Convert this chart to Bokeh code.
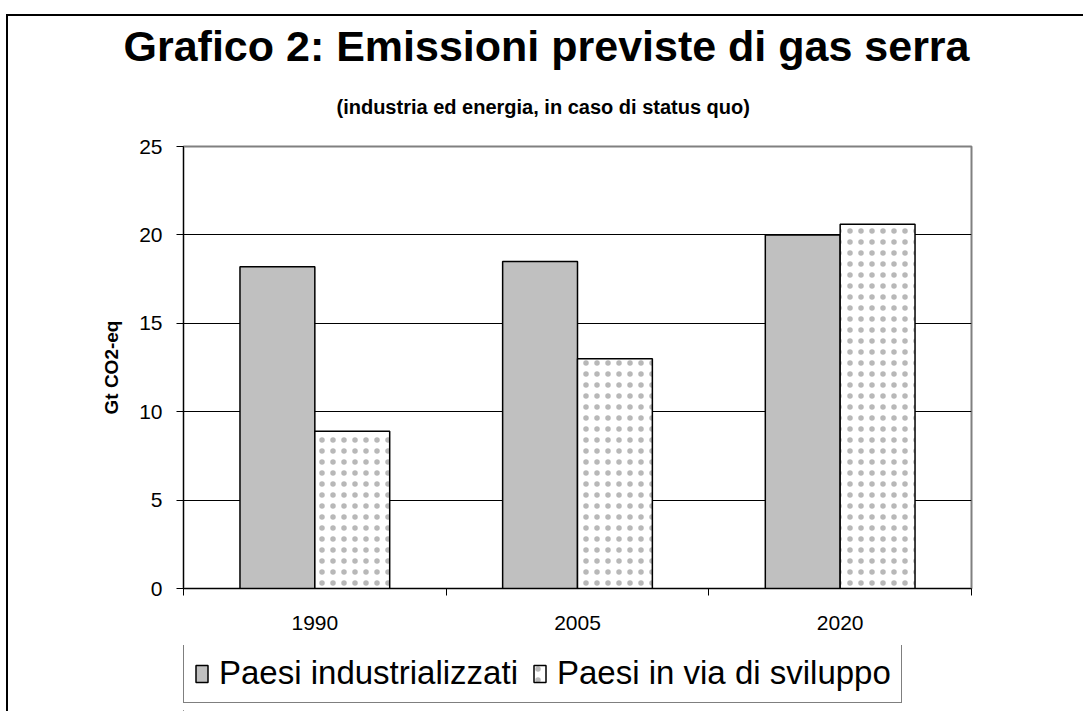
from bokeh.plotting import figure
from bokeh.layouts import column
from bokeh.models import (ColumnDataSource, Range1d, FixedTicker, Legend, LegendItem, Title)
from bokeh.transform import dodge
from bokeh.embed import file_html
from bokeh.resources import INLINE

years = ["1990", "2005", "2020"]
industrializzati = [18.2, 18.5, 20.0]
in_sviluppo = [8.9, 13.0, 20.6]
y_ticks = [0, 5, 10, 15, 20, 25]

title_text = "Grafico 2: Emissioni previste di gas serra"
subtitle_text = "(industria ed energia, in caso di status quo)"
series_names = ["Paesi industrializzati", "Paesi in via di sviluppo"]
y_label = "Gt CO2-eq"

FONT = "Liberation Sans"
BW = 0.285
IND_STYLE = dict(fill_color="#C0C0C0", line_color="black", line_width=1.5)
DEV_STYLE = dict(fill_color="white", line_color="black", line_width=1.5,
                 hatch_pattern="dot", hatch_color="#b8b8b8", hatch_scale=11, hatch_weight=1.2)

xc = [i + 0.5 for i in range(len(years))]
src = ColumnDataSource(dict(xc=xc, year=years, ind=industrializzati, dev=in_sviluppo))

p = figure(width=1075, height=629, frame_width=788, frame_height=442,
           min_border_left=175, min_border_right=112, min_border_top=130, min_border_bottom=57,
           x_range=Range1d(0, len(years)), y_range=Range1d(0, 25),
           output_backend="svg", toolbar_location=None, tools="")
p.background_fill_color = "white"
p.border_fill_color = "white"
p.outline_line_color = "#808080"
p.outline_line_width = 2

r1 = p.vbar(x=dodge("xc", -BW / 2, range=p.x_range), top="ind", width=BW, source=src, **IND_STYLE)
r2 = p.vbar(x=dodge("xc", BW / 2, range=p.x_range), top="dev", width=BW, source=src, **DEV_STYLE)

# grid
p.xgrid.visible = False
p.ygrid.ticker = FixedTicker(ticks=y_ticks[1:-1])
p.ygrid.grid_line_color = "black"
p.ygrid.grid_line_width = 1

# y axis
ya = p.yaxis[0]
ya.ticker = FixedTicker(ticks=y_ticks)
ya.minor_tick_line_color = None
ya.major_tick_in = 0
ya.major_tick_out = 7
ya.major_tick_line_color = "black"
ya.axis_line_color = "black"
ya.major_label_text_font = FONT
ya.major_label_text_font_size = "21px"
ya.major_label_text_color = "black"
ya.major_label_standoff = 14
ya.axis_label = y_label
ya.axis_label_text_font = FONT
ya.axis_label_text_font_style = "bold"
ya.axis_label_text_font_size = "19px"
ya.axis_label_text_color = "black"
ya.axis_label_standoff = 14

# x axis
xa = p.xaxis[0]
xa.ticker = FixedTicker(ticks=xc, minor_ticks=list(range(len(years) + 1)))
xa.major_label_overrides = {c: y for c, y in zip(xc, years)}
xa.major_tick_in = 0
xa.major_tick_out = 0
xa.minor_tick_in = 0
xa.minor_tick_out = 7
xa.minor_tick_line_color = "black"
xa.axis_line_color = "black"
xa.major_label_text_font = FONT
xa.major_label_text_font_size = "21px"
xa.major_label_text_color = "black"
xa.major_label_standoff = 20

# titles (subtitle first: nearest to the frame)
p.add_layout(Title(text=subtitle_text, align="left", offset=153, standoff=58,
                   text_font=FONT, text_font_style="bold", text_font_size="20px",
                   text_color="black"), "above")
p.add_layout(Title(text=title_text, align="left", offset=-60, standoff=-11,
                   text_font=FONT, text_font_style="bold", text_font_size="43px",
                   text_color="black"), "above")

# legend strip below the chart (same data, drawn well outside its visible ranges)
pl = figure(width=1075, height=66, min_border=0, x_axis_type=None, y_axis_type=None,
            x_range=Range1d(100, 100 + len(years)), y_range=Range1d(100, 101),
            output_backend="svg", toolbar_location=None, tools="")
pl.background_fill_color = "white"
pl.border_fill_color = "white"
pl.outline_line_color = None
pl.xgrid.visible = False
pl.ygrid.visible = False
l1 = pl.vbar(x=dodge("xc", -BW / 2, range=pl.x_range), top="ind", width=BW, source=src, **IND_STYLE)
l2 = pl.vbar(x=dodge("xc", BW / 2, range=pl.x_range), top="dev", width=BW, source=src, **DEV_STYLE)

legend = Legend(items=[LegendItem(label=series_names[0], renderers=[l1]),
                       LegendItem(label=series_names[1], renderers=[l2])],
                orientation="horizontal", location=(0, 8),
                label_text_font=FONT, label_text_font_size="33px", label_text_color="black",
                glyph_width=15, glyph_height=21, label_standoff=10, spacing=14,
                padding=10, margin=0, border_line_color="black", border_line_width=1,
                background_fill_color="white", background_fill_alpha=1)
pl.add_layout(legend, "center")

layout = column(p, pl, spacing=0)
layout.margin = (14, 0, 0, 6)
layout.styles = {"border-top": "2px solid black", "border-left": "2px solid black"}

open("out.html", "w").write(file_html(layout, INLINE))
